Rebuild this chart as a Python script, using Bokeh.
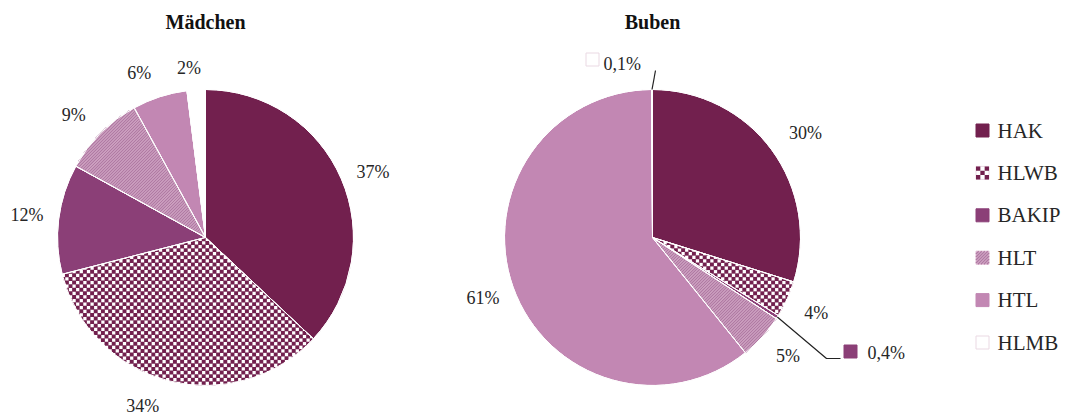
import math
from bokeh.plotting import figure
from bokeh.models import ColumnDataSource, Range1d
from bokeh.core.properties import value
from bokeh.embed import file_html
from bokeh.resources import INLINE

# ---- data ----
categories = ["HAK", "HLWB", "BAKIP", "HLT", "HTL", "HLMB"]
maedchen = [37, 34, 12, 9, 6, 2]
buben = [30, 4, 0.4, 5, 61, 0.1]
maedchen_labels = ["37%", "34%", "12%", "9%", "6%", "2%"]
buben_labels = ["30%", "4%", "0,4%", "5%", "61%", "0,1%"]
titles = ["Mädchen", "Buben"]

# ---- styles ----
colors = ["#72204E", "#FFFFFF", "#8B3F77", "#DFB9D2", "#C287B3", "#FFFFFF"]
texture = [None, "checker", None, "stripes", None, None]
CHECK_COLOR = "#72204E"
STRIPE_COLOR = "#B07AA3"
FONT = "Liberation Serif"
TXT = "#262626"

W, H = 1068, 416
p = figure(width=W, height=H, output_backend="svg", toolbar_location=None,
           x_range=Range1d(0, W), y_range=Range1d(0, H), min_border=0)
p.axis.visible = False
p.grid.visible = False
p.outline_line_color = None

R = 148
LR = 180
centers = [(205, 179), (652, 179)]
# small label placement tweaks (angle in degrees, radius in px)
nudges = [[-2, -6, 0, 2, 4, 2], [-2, 0, 0, 1, 0, 0]]
rnudges = [[0, 0, 0, 0, -3, -10], [5, 0, 0, 0, 0, 0]]


# ---- geometry helpers for textures ----
def _cross(A, B, P):
    return (B[0] - A[0]) * (P[1] - A[1]) - (B[1] - A[1]) * (P[0] - A[0])


def clip_poly(subject, clipper):
    out = subject
    n = len(clipper)
    for k in range(n):
        A, B = clipper[k], clipper[(k + 1) % n]
        inp, out = out, []
        if not inp:
            break
        S = inp[-1]
        fS = _cross(A, B, S)
        for E in inp:
            fE = _cross(A, B, E)
            if fE >= 0:
                if fS < 0:
                    t = fS / (fS - fE)
                    out.append((S[0] + t * (E[0] - S[0]), S[1] + t * (E[1] - S[1])))
                out.append(E)
            elif fS >= 0:
                t = fS / (fS - fE)
                out.append((S[0] + t * (E[0] - S[0]), S[1] + t * (E[1] - S[1])))
            S, fS = E, fE
    return out


def clip_seg(P0, P1, clipper):
    t0, t1 = 0.0, 1.0
    n = len(clipper)
    for k in range(n):
        A, B = clipper[k], clipper[(k + 1) % n]
        f0, f1 = _cross(A, B, P0), _cross(A, B, P1)
        if f0 < 0 and f1 < 0:
            return None
        if f0 >= 0 and f1 >= 0:
            continue
        t = f0 / (f0 - f1)
        if f0 < 0:
            t0 = max(t0, t)
        else:
            t1 = min(t1, t)
        if t0 >= t1:
            return None
    return ((P0[0] + t0 * (P1[0] - P0[0]), P0[1] + t0 * (P1[1] - P0[1])),
            (P0[0] + t1 * (P1[0] - P0[0]), P0[1] + t1 * (P1[1] - P0[1])))


def checker_cells(clipper, cell, ox, oy, grow=0.35):
    xs_all, ys_all = [], []
    xmin = min(q[0] for q in clipper); xmax = max(q[0] for q in clipper)
    ymin = min(q[1] for q in clipper); ymax = max(q[1] for q in clipper)
    i0 = math.floor((xmin - ox) / cell) - 1; i1 = math.ceil((xmax - ox) / cell)
    j0 = math.floor((ymin - oy) / cell) - 1; j1 = math.ceil((ymax - oy) / cell)
    g = grow / 2
    for i in range(i0, i1 + 1):
        for j in range(j0, j1 + 1):
            if (i + j) % 2:
                continue
            x0, y0 = ox + i * cell - g, oy + j * cell - g
            c = cell + grow
            sq = [(x0, y0), (x0 + c, y0), (x0 + c, y0 + c), (x0, y0 + c)]
            poly = clip_poly(sq, clipper)
            if len(poly) >= 3:
                xs_all.append([q[0] for q in poly])
                ys_all.append([q[1] for q in poly])
    return xs_all, ys_all


def stripe_lines(clipper, step):
    xmin = min(q[0] for q in clipper) - 1; xmax = max(q[0] for q in clipper) + 1
    ymin = min(q[1] for q in clipper) - 1; ymax = max(q[1] for q in clipper) + 1
    xs_all, ys_all = [], []
    c = math.floor((ymin - xmax) / step) * step
    while c <= ymax - xmin:
        seg = clip_seg((xmin, xmin + c), (xmax, xmax + c), clipper)
        if seg:
            xs_all.append([seg[0][0], seg[1][0]])
            ys_all.append([seg[0][1], seg[1][1]])
        c += step
    return xs_all, ys_all


def wedge_polygon(cx, cy, r, a_lo, a_hi):
    n = max(6, int(math.degrees(a_hi - a_lo)))
    pts = [(cx, cy)]
    for k in range(n + 1):
        a = a_lo + (a_hi - a_lo) * k / n
        pts.append((cx + r * math.cos(a), cy + r * math.sin(a)))
    return pts


def add_texture(kind, clipper, cell=3.5, ox=0.0, oy=0.0, grow=0.35):
    if kind == "checker":
        xs, ys = checker_cells(clipper, cell, ox, oy, grow)
        p.patches(xs=xs, ys=ys, fill_color=CHECK_COLOR, line_color=None)
    elif kind == "stripes":
        xs, ys = stripe_lines(clipper, 3.0)
        p.multi_line(xs=xs, ys=ys, line_color=STRIPE_COLOR, line_width=1.4)


def pie(k, vals, labels, skip_labels=()):
    cx, cy = centers[k]
    tot = sum(vals)
    starts, ends, mids = [], [], []
    a = math.pi / 2
    for v in vals:
        s = a
        a = a - 2 * math.pi * v / tot
        starts.append(s)
        ends.append(a)
        mids.append((s + a) / 2)
    src = ColumnDataSource(dict(x=[cx] * len(vals), y=[cy] * len(vals),
                                start=ends, end=starts, color=colors, cat=categories))
    p.wedge(x="x", y="y", radius=R, start_angle="start", end_angle="end",
            fill_color="color", line_color="white", line_width=1, source=src)
    for i, kind in enumerate(texture):
        if kind:
            add_texture(kind, wedge_polygon(cx, cy, R, ends[i], starts[i]), 3.6, cx, cy)
    p.wedge(x="x", y="y", radius=R, start_angle="start", end_angle="end",
            fill_color=None, line_color="white", line_width=1, source=src)
    lx, ly, lt = [], [], []
    for i, (m, t) in enumerate(zip(mids, labels)):
        if i in skip_labels:
            continue
        mm = m + math.radians(nudges[k][i])
        rr = LR + rnudges[k][i]
        lx.append(cx + rr * math.cos(mm))
        ly.append(cy + rr * math.sin(mm))
        lt.append(t)
    p.text(x=lx, y=ly, text=lt, text_align="center", text_baseline="middle",
           text_font=value(FONT), text_font_size="18px", text_color=TXT)
    return mids


pie(0, maedchen, maedchen_labels)
mids_b = pie(1, buben, buben_labels, skip_labels=(2, 5))

# titles
for (cx, cy), t in zip(centers, titles):
    p.text(x=[cx], y=[395], text=[t], text_align="center", text_baseline="middle",
           text_font=value(FONT), text_font_size="20px", text_color="#111111",
           text_font_style="bold")

# callout labels for tiny Buben slices
cx, cy = centers[1]
# HLMB 0,1%
m = mids_b[5]
p.line(x=[cx + R * math.cos(m), cx + 3], y=[cy + R * math.sin(m), cy + 167],
       line_color="#222222", line_width=1.2)
p.scatter(x=[cx - 60], y=[cy + 178], marker="square", size=13,
          fill_color=colors[5], line_color="#EAD9E3", line_width=1)
p.text(x=[cx - 49], y=[cy + 174], text=[buben_labels[5]], text_align="left",
       text_baseline="middle", text_font=value(FONT), text_font_size="18px",
       text_color=TXT)
# BAKIP 0,4%
m = mids_b[2]
p.line(x=[cx + R * math.cos(m), cx + 174, cx + 188],
       y=[cy + R * math.sin(m), cy - 121, cy - 121],
       line_color="#222222", line_width=1.2)
p.scatter(x=[cx + 198], y=[cy - 114], marker="square", size=13,
          fill_color=colors[2], line_color=colors[2])
p.text(x=[cx + 215], y=[cy - 115], text=[buben_labels[2]], text_align="left",
       text_baseline="middle", text_font=value(FONT), text_font_size="18px",
       text_color=TXT)

# legend
ly0, dy = 286, 42.4
SW = 13
lys = [ly0 - i * dy for i in range(len(categories))]
leg = ColumnDataSource(dict(x=[982] * len(categories), y=lys, color=colors,
                            lc=["#EAD9E3" if c == "#FFFFFF" else c for c in colors]))
p.rect(x="x", y="y", width=SW, height=SW, fill_color="color", line_color="lc",
       line_width=1, source=leg)
for i, kind in enumerate(texture):
    if kind:
        x0, y0 = 982 - SW / 2, lys[i] - SW / 2
        sq = [(x0, y0), (x0 + SW, y0), (x0 + SW, y0 + SW), (x0, y0 + SW)]
        add_texture(kind, sq, SW / 3, x0, y0, 0.0)
p.text(x=[997] * len(categories), y=lys, text=categories, text_align="left",
       text_baseline="middle", text_font=value(FONT), text_font_size="21px",
       text_color=TXT)

open("out.html", "w").write(file_html(p, INLINE))
